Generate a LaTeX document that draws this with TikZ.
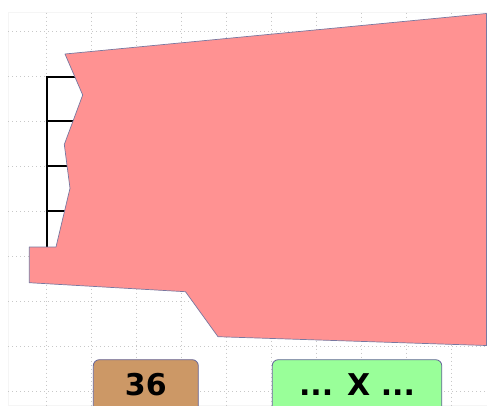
\documentclass[tikz,border=0pt]{standalone}
\usepackage{fontspec}
\setmainfont{DejaVu Sans}
\definecolor{wallred}{RGB}{255,146,146}
\definecolor{wallline}{RGB}{120,120,160}
\definecolor{boxbrown}{RGB}{204,152,102}
\definecolor{boxgreen}{RGB}{153,255,153}
\definecolor{gridgray}{RGB}{200,200,200}
\tikzset{
  gridline/.style={gridgray, dash pattern=on 1pt off 3pt, line width=0.8pt},
  beam/.style={black, line width=2.2pt},
  tag/.style={rounded corners=6pt, draw=gray!80!blue, line width=0.8pt, minimum height=70pt, anchor=north, inner sep=0pt},
  tagtext/.style={font=\bfseries\fontsize{30}{30}\selectfont, anchor=base, inner sep=0pt},
}
\begin{document}
\begin{tikzpicture}[x=1pt,y=-1pt]
\useasboundingbox (0,0) rectangle (487,405);
\clip (0,0) rectangle (487,405);
% grid area
\draw[gray!8, line width=0.5pt] (8,12.5) rectangle (487,405);
\foreach \gx in {46.5,91.5,...,460} \draw[gridline] (\gx,12.5) -- (\gx,405);
\foreach \gy in {31,76,...,400} \draw[gridline] (8,\gy) -- (487,\gy);
% black frame
\coordinate (ftop) at (46.7,76.7);
\coordinate (fbot) at (46.7,247);
\draw[beam] (ftop) -- (fbot);
\foreach \hy in {76.7,121,166,211} \draw[beam] (45.6,\hy) -- (95,\hy);
% wall polygon
\draw[fill=wallred, draw=wallline, line width=0.7pt, line join=round]
  (65,54) -- (486.5,13.5) -- (486.5,345.5) -- (218,336.7) -- (185.5,291.7)
  -- (29.3,282.7) -- (29.3,247) -- (56,247) -- (70,188.3) -- (64.3,144.5)
  -- (82.7,95) -- cycle;
% boxes
\node[tag, fill=boxbrown, minimum width=105pt] (b36) at (145.8,359.3) {};
\node[tagtext] (t36) at (145.8,395.5) {36};
\node[tag, fill=boxgreen, minimum width=169.5pt] (bx) at (357,359.3) {};
\node[tagtext] (tx) at (357,395.5) {... X ...};
\end{tikzpicture}
\end{document}
